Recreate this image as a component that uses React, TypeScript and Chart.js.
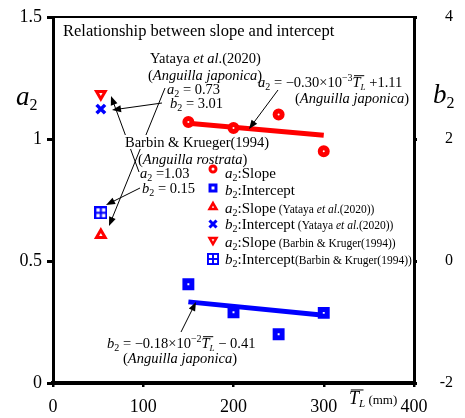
import React, { useEffect, useRef } from 'react';
import { Chart, registerables } from 'chart.js';
import { drawPoint } from 'chart.js/helpers';

Chart.register(...registerables);

const SERIF = '"Liberation Serif", "Times New Roman", serif';
const RED = 'rgb(255,0,0)';
const BLUE = 'rgb(0,0,255)';

// ---- data ----
const slopeTL = [150, 200, 250, 300];
const slopeA2 = [1.07, 1.045, 1.1, 0.95];
const interceptB2 = [-0.38, -0.84, -1.2, -0.85];
const fitTL = [150, 300];
const fitA2 = [1.065, 1.015];
const fitB2 = [-0.67, -0.89];
const refTL = [53];
const yatayaA2 = [0.607];
const yatayaB2 = [2.49];
const barbinA2 = [1.184];
const barbinB2 = [0.79];
const xTicks = [0, 100, 200, 300, 400];
const leftTicks = [0, 0.5, 1, 1.5];
const rightTicks = [-2, 0, 2, 4];

const pts = (xs: number[], ys: number[]) => xs.map((x, i) => ({ x, y: ys[i] }));

function makeGridSquare(size: number) {
  const c = document.createElement('canvas');
  c.width = size;
  c.height = size;
  const g = c.getContext('2d')!;
  g.fillStyle = BLUE;
  g.fillRect(0, 0, size, size);
  g.fillStyle = '#fff';
  const b = size * 0.16;
  const cell = (size - 3 * b) / 2;
  g.fillRect(b, b, cell, cell);
  g.fillRect(2 * b + cell, b, cell, cell);
  g.fillRect(b, 2 * b + cell, cell, cell);
  g.fillRect(2 * b + cell, 2 * b + cell, cell, cell);
  return c;
}

type Seg = { t: string; it?: boolean; sz?: number; dy?: number; over?: boolean };

function rich(ctx: CanvasRenderingContext2D, x: number, y: number, segs: Seg[], base: number) {
  let cx = x;
  for (const s of segs) {
    const size = s.sz ?? base;
    ctx.font = `${s.it ? 'italic ' : ''}${size}px ${SERIF}`;
    ctx.fillText(s.t, cx, y + (s.dy ?? 0));
    const w = ctx.measureText(s.t).width;
    if (s.over) {
      ctx.save();
      ctx.lineWidth = 1;
      ctx.beginPath();
      ctx.moveTo(cx + size * 0.1, y + (s.dy ?? 0) - size * 0.78);
      ctx.lineTo(cx + w + size * 0.25, y + (s.dy ?? 0) - size * 0.78);
      ctx.stroke();
      ctx.restore();
    }
    cx += w;
  }
  return cx - x;
}

function arrow(ctx: CanvasRenderingContext2D, x1: number, y1: number, x2: number, y2: number) {
  const ang = Math.atan2(y2 - y1, x2 - x1);
  const L = 9, W = 3.5;
  ctx.beginPath();
  ctx.moveTo(x1, y1);
  ctx.lineTo(x2 - Math.cos(ang) * L * 0.8, y2 - Math.sin(ang) * L * 0.8);
  ctx.stroke();
  ctx.beginPath();
  ctx.moveTo(x2, y2);
  ctx.lineTo(x2 - Math.cos(ang) * L - Math.sin(ang) * W, y2 - Math.sin(ang) * L + Math.cos(ang) * W);
  ctx.lineTo(x2 - Math.cos(ang) * L + Math.sin(ang) * W, y2 - Math.sin(ang) * L - Math.cos(ang) * W);
  ctx.closePath();
  ctx.fill();
}

export default function App() {
  const ref = useRef<HTMLCanvasElement>(null);
  useEffect(() => {
    const canvas = ref.current!;
    const gridSq = makeGridSquare(13);
    const gridSqLegend = makeGridSquare(12);

    const markers = [
      { style: 'circle', radius: 3.5, bw: 5, color: RED, rot: 0 },
      { style: 'rect', radius: 4.9, bw: 5, color: BLUE, rot: 0 },
      { style: 'triangle', radius: 5, bw: 3, color: RED, rot: 0 },
      { style: 'crossRot', radius: 6, bw: 3.5, color: BLUE, rot: 0 },
      { style: 'triangle', radius: 5, bw: 3, color: RED, rot: 180 },
      { style: gridSq as any, radius: 6, bw: 0, color: BLUE, rot: 0 },
    ];
    const legendMarkers = [
      { style: 'circle', radius: 3, bw: 3, color: RED, rot: 0 },
      { style: 'rect', radius: 4.2, bw: 3, color: BLUE, rot: 0 },
      { style: 'triangle', radius: 4, bw: 2.5, color: RED, rot: 0 },
      { style: 'crossRot', radius: 5, bw: 3, color: BLUE, rot: 0 },
      { style: 'triangle', radius: 4, bw: 2.5, color: RED, rot: 180 },
      { style: gridSqLegend as any, radius: 6, bw: 0, color: BLUE, rot: 0 },
    ];

    const annot = {
      id: 'annot',
      afterDraw(chart: any) {
        const ctx: CanvasRenderingContext2D = chart.ctx;
        const a = chart.chartArea;
        ctx.save();
        // top border
        ctx.strokeStyle = '#000';
        ctx.lineWidth = 2;
        ctx.beginPath();
        ctx.moveTo(a.left, a.top);
        ctx.lineTo(a.right, a.top);
        ctx.stroke();

        ctx.fillStyle = '#000';
        ctx.textBaseline = 'alphabetic';
        ctx.textAlign = 'left';

        // axis titles
        rich(ctx, 16, 105, [{ t: 'a', it: true, sz: 27 }, { t: '2', sz: 16, dy: 5 }], 27);
        rich(ctx, 433, 103, [{ t: 'b', it: true, sz: 27 }, { t: '2', sz: 16, dy: 5 }], 27);
        rich(ctx, 349, 404, [{ t: 'T', it: true, sz: 18, over: true }, { t: 'L', it: true, sz: 11, dy: 3 }, { t: ' (mm)', sz: 13 }], 18);

        // title
        ctx.font = `16.5px ${SERIF}`;
        ctx.fillText('Relationship between slope and intercept', 63, 36);

        // arrows
        ctx.lineWidth = 1;
        ctx.strokeStyle = '#000';
        arrow(ctx, 165, 88, 109, 226);
        arrow(ctx, 139, 172, 111, 96);
        arrow(ctx, 162, 103, 112, 110);
        arrow(ctx, 140, 188, 106, 205);
        arrow(ctx, 278, 90, 249, 129);
        arrow(ctx, 181, 332, 196, 302);

        const F = 14.5;
        // Yataya block
        rich(ctx, 150, 63, [{ t: 'Yataya ' }, { t: 'et al', it: true }, { t: '.(2020)' }], F);
        rich(ctx, 148, 80, [{ t: '(' }, { t: 'Anguilla japonica', it: true }, { t: ')' }], F);
        rich(ctx, 167, 94, [{ t: 'a', it: true }, { t: '2', sz: 10, dy: 3 }, { t: ' = 0.73' }], F);
        rich(ctx, 170, 108, [{ t: 'b', it: true }, { t: '2', sz: 10, dy: 3 }, { t: ' = 3.01' }], F);

        // a2 equation
        rich(ctx, 258, 87, [
          { t: 'a', it: true }, { t: '2', sz: 10, dy: 3 }, { t: ' = \u22120.30\u00d710' },
          { t: '\u22123', sz: 10, dy: -6 }, { t: 'T', it: true, over: true }, { t: 'L', it: true, sz: 9, dy: 3 },
          { t: ' +1.11' },
        ], F);
        rich(ctx, 295, 103, [{ t: '(' }, { t: 'Anguilla japonica', it: true }, { t: ')' }], F);

        // Barbin block (white background)
        ctx.font = `${F}px ${SERIF}`;
        const bw = ctx.measureText('Barbin & Krueger(1994)').width;
        ctx.fillStyle = '#fff';
        ctx.fillRect(125, 135, bw, 14);
        ctx.fillStyle = '#000';
        rich(ctx, 125, 147, [{ t: 'Barbin & Krueger(1994)' }], F);
        rich(ctx, 138, 164, [{ t: '(' }, { t: 'Anguilla rostrata', it: true }, { t: ')' }], F);
        rich(ctx, 140, 178, [{ t: 'a', it: true }, { t: '2', sz: 10, dy: 3 }, { t: ' =1.03' }], F);
        rich(ctx, 142, 193, [{ t: 'b', it: true }, { t: '2', sz: 10, dy: 3 }, { t: ' = 0.15' }], F);

        // b2 equation
        rich(ctx, 107, 348, [
          { t: 'b', it: true }, { t: '2', sz: 10, dy: 3 }, { t: ' = \u22120.18\u00d710' },
          { t: '\u22122', sz: 10, dy: -6 }, { t: 'T', it: true, over: true }, { t: 'L', it: true, sz: 9, dy: 3 },
          { t: ' \u2212 0.41' },
        ], F);
        rich(ctx, 123, 363, [{ t: '(' }, { t: 'Anguilla japonica', it: true }, { t: ')' }], F);

        // legend
        const rows = [
          { my: 169, ty: 178, seg: [{ t: 'a', it: true }, { t: '2', sz: 10, dy: 3 }, { t: ':Slope' }] },
          { my: 188, ty: 195, seg: [{ t: 'b', it: true }, { t: '2', sz: 10, dy: 3 }, { t: ':Intercept' }] },
          { my: 207, ty: 213, seg: [{ t: 'a', it: true }, { t: '2', sz: 10, dy: 3 }, { t: ':Slope' }, { t: ' (Yataya ', sz: 11.5 }, { t: 'et al', it: true, sz: 11.5 }, { t: '.(2020))', sz: 11.5 }] },
          { my: 224, ty: 229, seg: [{ t: 'b', it: true }, { t: '2', sz: 10, dy: 3 }, { t: ':Intercept' }, { t: ' (Yataya ', sz: 11.5 }, { t: 'et al', it: true, sz: 11.5 }, { t: '.(2020))', sz: 11.5 }] },
          { my: 240, ty: 247, seg: [{ t: 'a', it: true }, { t: '2', sz: 10, dy: 3 }, { t: ':Slope' }, { t: ' (Barbin & Kruger(1994))', sz: 11.5 }] },
          { my: 259, ty: 264, seg: [{ t: 'b', it: true }, { t: '2', sz: 10, dy: 3 }, { t: ':Intercept' }, { t: '(Barbin & Kruger(1994))', sz: 11.5 }] },
        ];
        rows.forEach((r, i) => {
          const m = legendMarkers[i];
          ctx.save();
          ctx.fillStyle = m.style === 'crossRot' ? m.color : '#fff';
          ctx.strokeStyle = m.color;
          ctx.lineWidth = m.bw;
          ctx.lineJoin = 'miter';
          drawPoint(ctx, {
            pointStyle: m.style,
            rotation: m.rot,
            radius: m.radius,
            borderWidth: m.bw,
          } as any, 213, r.my);
          ctx.restore();
          ctx.fillStyle = '#000';
          rich(ctx, 225, r.ty, r.seg as Seg[], 15);
        });
        ctx.restore();
      },
    };

    const ds = (label: string, data: any[], m: any, axis: string, order: number) => ({
      label,
      data,
      yAxisID: axis,
      showLine: false,
      pointStyle: m.style,
      pointRotation: m.rot,
      pointRadius: m.radius,
      pointBorderWidth: m.bw,
      pointBorderColor: m.color,
      pointBackgroundColor: m.style === 'crossRot' ? m.color : '#fff',
      borderColor: m.color,
      backgroundColor: '#fff',
      order,
    });

    const noPad = (s: any) => {
      s.paddingTop = 0;
      s.paddingBottom = 0;
      s.paddingLeft = 0;
      s.paddingRight = 0;
    };

    const chart = new Chart(canvas, {
      type: 'scatter',
      data: {
        datasets: [
          ds('a2:Slope', pts(slopeTL, slopeA2), markers[0], 'y', 1),
          ds('b2:Intercept', pts(slopeTL, interceptB2), markers[1], 'y1', 1),
          ds('a2:Slope (Yataya et al.(2020))', pts(refTL, yatayaA2), markers[2], 'y', 1),
          ds('b2:Intercept (Yataya et al.(2020))', pts(refTL, yatayaB2), markers[3], 'y1', 1),
          ds('a2:Slope (Barbin & Kruger(1994))', pts(refTL, barbinA2), markers[4], 'y', 1),
          ds('b2:Intercept (Barbin & Kruger(1994))', pts(refTL, barbinB2), markers[5], 'y1', 1),
          {
            label: 'a2 fit',
            data: pts(fitTL, fitA2),
            yAxisID: 'y',
            showLine: true,
            borderColor: RED,
            borderWidth: 5,
            pointRadius: 0,
            order: 5,
          },
          {
            label: 'b2 fit',
            data: pts(fitTL, fitB2),
            yAxisID: 'y1',
            showLine: true,
            borderColor: BLUE,
            borderWidth: 5,
            pointRadius: 0,
            order: 5,
          },
        ],
      },
      options: {
        animation: false,
        responsive: false,
        devicePixelRatio: 1,
        layout: { padding: { top: 17, left: 0, right: 12, bottom: 0 } },
        plugins: { legend: { display: false }, tooltip: { enabled: false }, title: { display: false } },
        scales: {
          x: {
            type: 'linear',
            min: 0,
            max: 400,
            afterBuildTicks: (s: any) => { s.ticks = xTicks.map((v) => ({ value: v })); },
            afterFit: (s: any) => { s.height = 35; noPad(s); },
            ticks: { color: '#000', font: { family: SERIF, size: 18 }, padding: 9, callback: (v: any) => String(v), maxRotation: 0 },
            grid: { display: true, drawOnChartArea: false, drawTicks: true, tickLength: 4, lineWidth: 2.5, color: '#000' },
            border: { display: true, width: 4, color: '#000' },
          },
          y: {
            type: 'linear',
            position: 'left',
            min: 0,
            max: 1.5,
            afterBuildTicks: (s: any) => { s.ticks = leftTicks.map((v) => ({ value: v })); },
            afterFit: (s: any) => { s.width = 53; noPad(s); },
            ticks: { color: '#000', font: { family: SERIF, size: 18 }, padding: 5, callback: (v: any) => String(v) },
            grid: { display: true, drawOnChartArea: false, drawTicks: true, tickLength: 6, lineWidth: 3, color: '#000' },
            border: { display: true, width: 3, color: '#000' },
          },
          y1: {
            type: 'linear',
            position: 'right',
            min: -2,
            max: 4,
            afterBuildTicks: (s: any) => { s.ticks = rightTicks.map((v) => ({ value: v })); },
            afterFit: (s: any) => { s.width = 39; noPad(s); },
            ticks: { color: '#000', font: { family: SERIF, size: 16 }, padding: 4, callback: (v: any) => String(v), crossAlign: 'far' },
            grid: { display: true, drawOnChartArea: false, drawTicks: true, tickLength: 3, lineWidth: 3, color: '#000' },
            border: { display: true, width: 3, color: '#000' },
          },
        },
      } as any,
      plugins: [annot],
    });
    return () => chart.destroy();
  }, []);

  return (
    <div style={{ position: 'absolute', left: 0, top: 0, width: 465, height: 418, background: '#fff' }}>
      <canvas ref={ref} width={465} height={418} />
    </div>
  );
}
